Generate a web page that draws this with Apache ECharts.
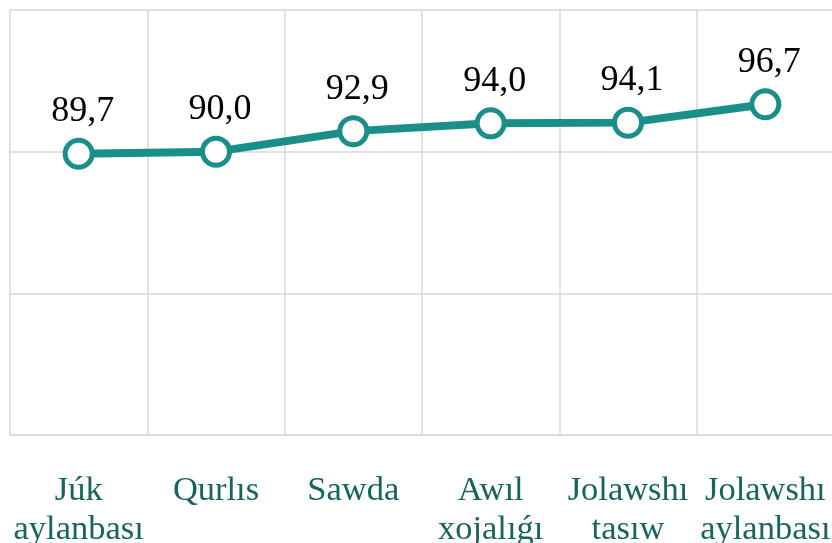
<!DOCTYPE html>
<html>
<head>
<meta charset="utf-8">
<script src="https://cdn.jsdelivr.net/npm/echarts@6/dist/echarts.min.js"></script>
<style>
  html, body { margin: 0; padding: 0; background: #fff; }
  #chart { width: 832px; height: 543px; }
</style>
</head>
<body>
<div id="chart"></div>
<script>
  const categories = ['Júk\naylanbası', 'Qurlıs', 'Sawda', 'Awıl\nxojalıǵı', 'Jolawshı\ntasıw', 'Jolawshı\naylanbası'];
  const values = [89.7, 90.0, 92.9, 94.0, 94.1, 96.7];

  const chart = echarts.init(document.getElementById('chart'));

  const option = {
    animation: false,
    grid: { left: 10, right: -2, top: 10, bottom: 108, outerBoundsMode: 'none', containLabel: false },
    xAxis: {
      type: 'category',
      data: categories,
      boundaryGap: true,
      axisLine: { lineStyle: { color: '#d9d9d9', width: 1.5 } },
      axisTick: { show: false },
      splitLine: { show: true, lineStyle: { color: '#d9d9d9', width: 1.5 } },
      axisLabel: {
        interval: 0,
        margin: 36,
        color: '#17655f',
        fontFamily: 'Liberation Serif',
        fontSize: 34.5,
        lineHeight: 39
      }
    },
    yAxis: {
      type: 'value',
      min: 50,
      max: 110,
      interval: 20,
      axisLabel: { show: false },
      axisLine: { show: false },
      axisTick: { show: false },
      splitLine: { lineStyle: { color: '#d9d9d9', width: 1.5 } }
    },
    series: [{
      type: 'line',
      data: values,
      symbol: 'circle',
      symbolSize: 27,
      lineStyle: { color: '#1a8f8a', width: 8 },
      itemStyle: { color: '#ffffff', borderColor: '#1a8f8a', borderWidth: 5 },
      label: {
        show: true,
        position: 'top',
        distance: 8,
        offset: [4, 0],
        color: '#000',
        fontFamily: 'Liberation Serif',
        fontSize: 36,
        formatter: (p) => p.value.toFixed(1).replace('.', ',')
      }
    }]
  };

  chart.setOption(option);
</script>
</body>
</html>
